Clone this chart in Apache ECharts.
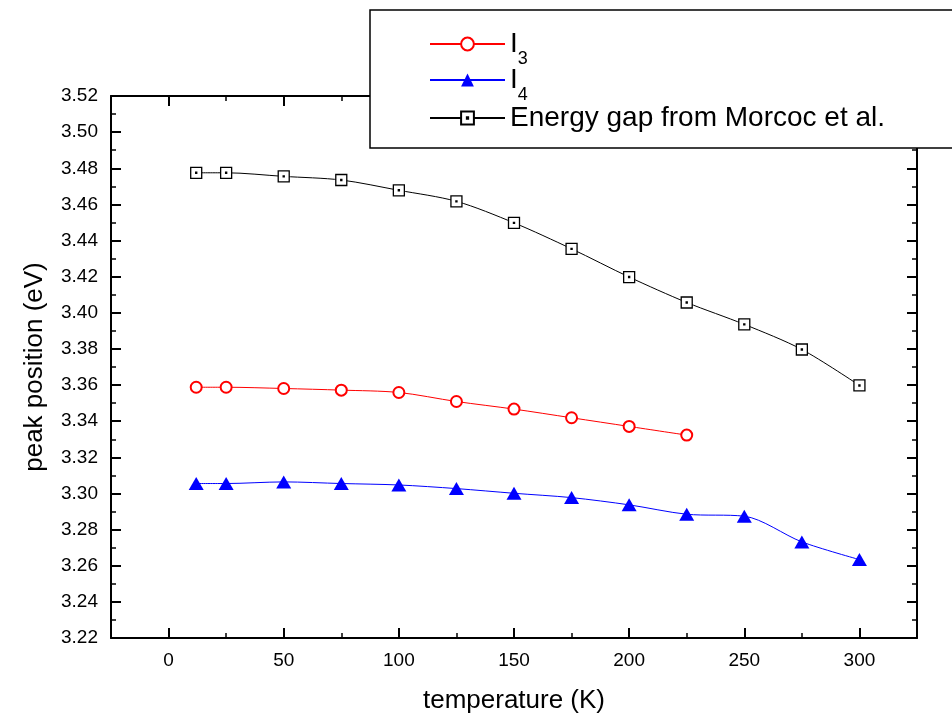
<!doctype html>
<html>
<head>
<meta charset="utf-8">
<title>peak position vs temperature</title>
<script src="https://cdn.jsdelivr.net/npm/echarts@6/dist/echarts.min.js"></script>
<style>
html, body { margin: 0; padding: 0; background: #fff; }
#main { width: 952px; height: 720px; }
</style>
</head>
<body>
<div id="main"></div>
<script>
// temperature (K)
var tempK = [12, 25, 50, 75, 100, 125, 150, 175, 200, 225, 250, 275, 300];
// peak positions (eV)
var i3 = [3.3588, 3.3588, 3.3581, 3.3572, 3.3559, 3.3509, 3.3467, 3.3419, 3.3371, 3.3323];
var i4 = [3.3055, 3.3055, 3.3064, 3.3055, 3.3047, 3.3027, 3.3001, 3.2977, 3.2937, 3.2885, 3.2874, 3.2732, 3.2634];
var morcoc = [3.4775, 3.4775, 3.4755, 3.4735, 3.4678, 3.4617, 3.4498, 3.4354, 3.4198, 3.4057, 3.3936, 3.3797, 3.3598];

var seriesNames = ['I3', 'I4', 'Energy gap from Morcoc et al.'];
var xMajor = [0, 50, 100, 150, 200, 250, 300];
var xMinor = [25, 75, 125, 175, 225, 275];

var font = 'Liberation Sans, Arial, sans-serif';

function pairs(xs, ys) {
  var out = [];
  for (var i = 0; i < ys.length; i++) out.push([xs[i], ys[i]]);
  return out;
}

// one x axis for the long ticks, one for the short ones, on each side
function xAx(pos, ticks, len, withLine, withLabel) {
  var ax = {
    type: 'value', position: pos, min: -25, max: 325,
    axisLine: { show: withLine, onZero: false, lineStyle: { color: '#000', width: 2 } },
    axisTick: { show: true, inside: true, length: len, customValues: ticks, lineStyle: { color: '#000', width: len > 6 ? 2 : 1.5 } },
    axisLabel: { show: withLabel, customValues: xMajor, margin: 13, color: '#000', fontSize: 19, fontFamily: font },
    splitLine: { show: false }
  };
  if (withLabel) {
    ax.name = 'temperature (K)';
    ax.nameLocation = 'middle';
    ax.nameGap = 50;
    ax.nameTextStyle = { color: '#000', fontSize: 26, fontFamily: font };
  }
  return ax;
}

function yAx(pos, withLabel) {
  var ax = {
    type: 'value', position: pos, min: 3.22, max: 3.52, interval: 0.02,
    axisLine: { show: true, onZero: false, lineStyle: { color: '#000', width: 2 } },
    axisTick: { show: true, inside: true, length: 10, lineStyle: { color: '#000', width: 2 } },
    minorTick: { show: true, splitNumber: 2, length: 5, lineStyle: { color: '#000', width: 1.5 } },
    axisLabel: { show: withLabel, margin: 13, color: '#000', fontSize: 19, fontFamily: font,
      formatter: function (v) { return v.toFixed(2); } },
    splitLine: { show: false }
  };
  if (withLabel) {
    ax.name = 'peak position (eV)';
    ax.nameLocation = 'middle';
    ax.nameGap = 63;
    ax.nameTextStyle = { color: '#000', fontSize: 26, fontFamily: font };
  }
  return ax;
}

// one legend per row so the rows sit where they do in the figure
function legendRow(name, top) {
  return {
    z: 10,
    orient: 'vertical',
    left: 429, top: top,
    padding: 0,
    itemWidth: 75, itemHeight: 16,
    selectedMode: false,
    data: [name],
    formatter: function (n) {
      var m = /^I(\d)$/.exec(n);
      if (m) return '{a|I}{s|' + m[1] + '}';
      return '{a|' + n + '}';
    },
    textStyle: {
      color: '#000', fontFamily: font, fontSize: 28,
      rich: {
        a: { fontSize: 28, lineHeight: 48, color: '#000', fontFamily: font },
        s: { fontSize: 18, lineHeight: 18, verticalAlign: 'bottom', color: '#000', fontFamily: font }
      }
    }
  };
}

var myChart = echarts.init(document.getElementById('main'));

var option = {
  backgroundColor: '#fff',
  animation: false,
  grid: { left: 111, right: 35, top: 96, bottom: 82 },
  xAxis: [
    xAx('bottom', xMajor, 10, true, true),
    xAx('bottom', xMinor, 5, false, false),
    xAx('top', xMajor, 10, true, false),
    xAx('top', xMinor, 5, false, false)
  ],
  yAxis: [yAx('left', true), yAx('right', false)],
  graphic: [{
    type: 'rect', z: 3,
    shape: { x: 370, y: 10, width: 620, height: 138 },
    style: { fill: '#fff', stroke: '#000', lineWidth: 1.5 }
  }],
  legend: [
    legendRow(seriesNames[0], 30),
    legendRow(seriesNames[1], 66),
    legendRow(seriesNames[2], 104)
  ],
  series: [
    {
      name: seriesNames[0], type: 'line', data: pairs(tempK, i3),
      smooth: 0.3,
      symbol: 'emptyCircle', symbolSize: 11,
      lineStyle: { color: '#ff0000', width: 1 },
      itemStyle: { color: '#ff0000', borderWidth: 1.3 }
    },
    {
      name: seriesNames[1], type: 'line', data: pairs(tempK, i4),
      smooth: 0.3,
      symbol: 'triangle', symbolSize: [15, 13],
      lineStyle: { color: '#0000ff', width: 1 },
      itemStyle: { color: '#0000ff' }
    },
    {
      name: seriesNames[2], type: 'line', data: pairs(tempK, morcoc),
      smooth: 0.3,
      symbol: 'path://M0,0H10V10H0Z M4.5,4.5H5.5V5.5H4.5Z', symbolSize: 11,
      lineStyle: { color: '#000', width: 1 },
      itemStyle: { color: '#fff', borderColor: '#000', borderWidth: 1.3 }
    }
  ]
};

myChart.setOption(option);
</script>
</body>
</html>
